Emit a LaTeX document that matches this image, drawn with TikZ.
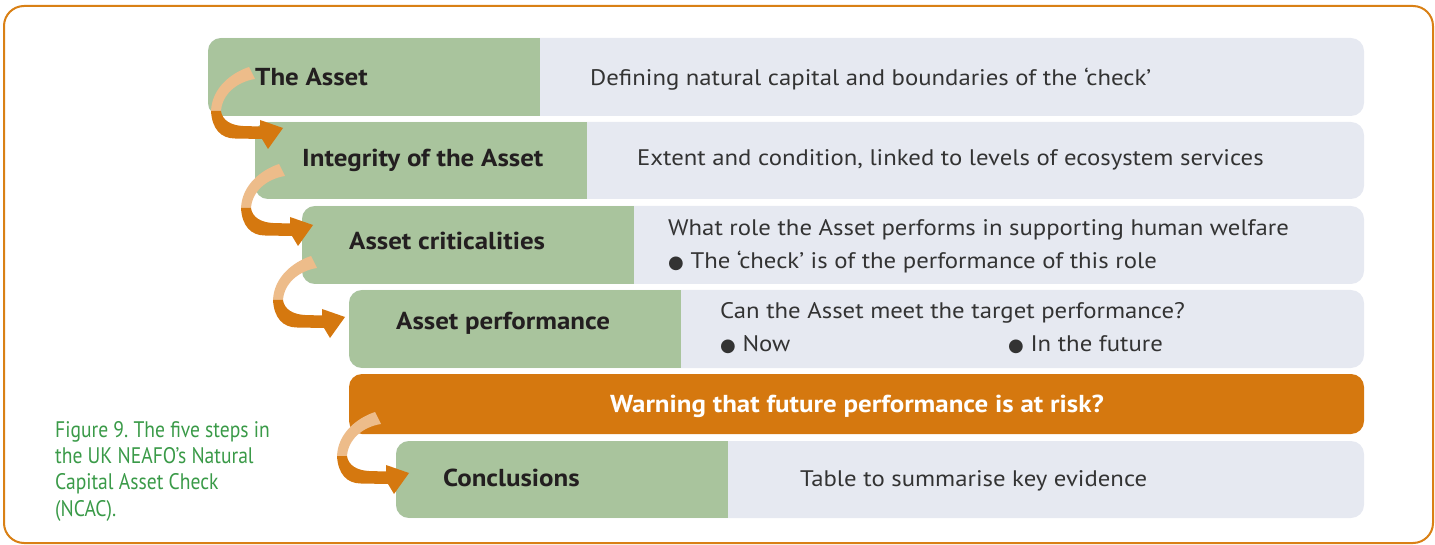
\documentclass[tikz,border=0pt]{standalone}
\usepackage{fontspec}
\setmainfont{PT Sans}[FakeStretch=1.10]
\newfontfamily\capfont[FakeStretch=0.87]{PT Sans}
\newfontfamily\symfont{DejaVu Sans}
\frenchspacing
\definecolor{sage}{HTML}{A9C49D}
\definecolor{mist}{HTML}{E6E9F1}
\definecolor{deeporange}{HTML}{D5780F}
\definecolor{peach}{HTML}{EDBC8A}
\definecolor{frameorange}{HTML}{D98015}
\definecolor{capgreen}{HTML}{3A9A48}
\definecolor{inkdark}{HTML}{231F20}
\definecolor{inkgrey}{HTML}{333333}
\newcommand{\blt}{{\symfont\fontsize{18}{20}\selectfont ●}}
\begin{document}
\begin{tikzpicture}[x=1pt,y=-1pt,
  rowbox/.style={fill=mist, rounded corners=13pt, anchor=north west, inner sep=0pt, outer sep=0pt,
    path picture={\fill[sage, sharp corners] (path picture bounding box.south west) rectangle ([xshift=332pt]path picture bounding box.north west);}},
  warnbox/.style={fill=deeporange, rounded corners=13pt, anchor=north west, inner sep=0pt, outer sep=0pt},
  titletext/.style={font=\bfseries\fontsize{24.5}{28}\selectfont, text=inkdark, anchor=base west, inner sep=0pt},
  desctext/.style={font=\fontsize{22.5}{27}\selectfont, text=inkgrey, anchor=base west, inner sep=0pt},
  captext/.style={font=\capfont\fontsize{22.5}{26}\selectfont, text=capgreen, anchor=base west, inner sep=0pt},
  twist/.pic={
    \fill[peach] (-34,-61) .. controls (-52,-55) and (-71,-40) .. (-72,-17) -- (-62,-17) .. controls (-61,-33) and (-47,-46) .. (-28,-49) -- cycle;
    \fill[deeporange] (-72,-17) .. controls (-71,1) and (-62,10.5) .. (-48,10.5) -- (-21,11) -- (-15,21) -- (0,0) -- (-23,-8) -- (-23,-1.5) -- (-40,-2) .. controls (-52,-2.5) and (-61,-8) .. (-62,-17) -- cycle;
  }]
\useasboundingbox (0,0) rectangle (1435,545);
\draw[frameorange, line width=2pt, rounded corners=20pt] (4,6) rectangle (1433,543);

% rows
\node[rowbox, minimum width=1156pt, minimum height=78pt] (r1) at (208,38) {};
\node[rowbox, minimum width=1109pt, minimum height=77pt] (r2) at (255,122) {};
\node[rowbox, minimum width=1062pt, minimum height=78pt] (r3) at (302,206) {};
\node[rowbox, minimum width=1015pt, minimum height=78pt] (r4) at (349,290) {};
\node[warnbox, minimum width=1015pt, minimum height=60pt] (w) at (349,374) {};
\node[rowbox, minimum width=968pt, minimum height=77pt] (r6) at (396,441) {};

% titles
\node[titletext] (t1) at (255,85.5) {The Asset};
\node[titletext] (t2) at (302,166.5) {Integrity of the Asset};
\node[titletext] (t3) at (349,250) {Asset criticalities};
\node[titletext] (t4) at (396,330) {Asset performance};
\node[titletext, text=white, anchor=base] (tw) at (857,412) {Warning that future performance is at risk?};
\node[titletext] (t6) at (443,486) {Conclusions};

% descriptions
\node[desctext] (d1) at (590,85.5) {Defining natural capital and boundaries of the ‘check’};
\node[desctext] (d2) at (637,166) {Extent and condition, linked to levels of ecosystem services};
\node[desctext] (d3a) at (668,236) {What role the Asset performs in supporting human welfare};
\node[desctext] (d3b) at (668,269) {\blt\ The ‘check’ is of the performance of this role};
\node[desctext] (d4a) at (720,319) {Can the Asset meet the target performance?};
\node[desctext] (d4b) at (720,351) {\blt\ Now};
\node[desctext] (d4c) at (1008,351) {\blt\ In the future};
\node[desctext] (d6) at (800,486) {Table to summarise key evidence};

% caption
\node[captext] (c1) at (55,437) {Figure 9. The five steps in};
\node[captext] (c2) at (55,463.4) {the UK NEAFO’s Natural};
\node[captext] (c3) at (55,489.8) {Capital Asset Check};
\node[captext] (c4) at (55,516.2) {(NCAC).};

% step arrows
\coordinate (a1) at (283,128);
\coordinate (a2) at (313,225);
\coordinate (a3) at (345,317);
\coordinate (a4) at (409,473);
\pic at (a1) {twist};
\pic at (a2) {twist};
\pic at (a3) {twist};
\pic at (a4) {twist};
\end{tikzpicture}
\end{document}
